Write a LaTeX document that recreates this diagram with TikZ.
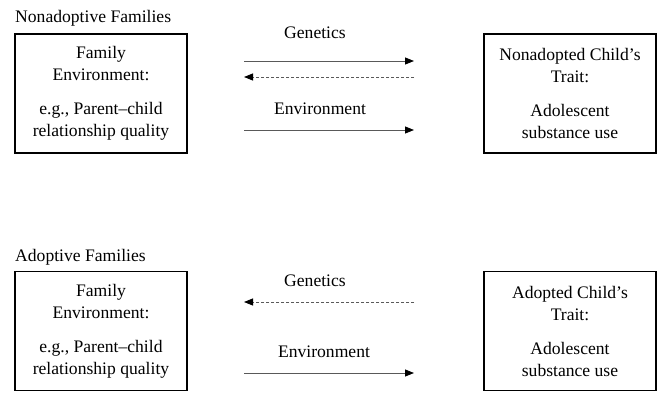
\documentclass[tikz,border=0pt]{standalone}
\usepackage{fontspec}
\setmainfont{Liberation Serif}
\usepackage{tikz}
\usetikzlibrary{arrows.meta}

\begin{document}
\begin{tikzpicture}[x=1pt,y=1pt]
\tikzstyle{freccia} = [-{Triangle[length=9pt,width=7pt,color=black]}, line width=0.9pt, draw=black!65]
\tikzstyle{tratteggio} = [freccia, dash pattern=on 3pt off 2pt]
\tikzstyle{scatola} = [draw, line width=1.2pt, minimum width=172pt, minimum height=119pt, align=center, font=\fontsize{17.6}{22}\selectfont]
\tikzstyle{testo} = [font=\fontsize{17.6}{22}\selectfont, inner sep=0pt]
\useasboundingbox (0,0) rectangle (657,392);
% nonadoptive
\node[testo, anchor=west] (t1) at (15,374) {Nonadoptive Families};
\node[scatola] (fam1) at (101,298.5) {Family\\ Environment:\\[12pt] e.g., Parent--child\\ relationship quality};
\node[scatola] (trait1) at (570,298.5) {Nonadopted Child's\\ Trait:\\[12pt] Adolescent\\ substance use};
\node[testo] (gen1) at (315,359) {Genetics};
\node[testo] (env1) at (320,283) {Environment};
\coordinate (a1) at (244,331);
\coordinate (b1) at (414,331);
\coordinate (a2) at (244,315);
\coordinate (b2) at (414,315);
\coordinate (a3) at (244,262);
\coordinate (b3) at (414,262);
\draw[freccia] (a1) -- (b1);
\draw[tratteggio] (b2) -- (a2);
\draw[freccia] (a3) -- (b3);
% adoptive
\node[testo, anchor=west] (t2) at (15,135) {Adoptive Families};
\node[scatola] (fam2) at (101,61) {Family\\ Environment:\\[12pt] e.g., Parent--child\\ relationship quality};
\node[scatola] (trait2) at (570,61) {Adopted Child's\\ Trait:\\[12pt] Adolescent\\ substance use};
\node[testo] (gen2) at (315,111) {Genetics};
\node[testo] (env2) at (324,40) {Environment};
\coordinate (a4) at (244,90);
\coordinate (b4) at (414,90);
\coordinate (a5) at (244,19);
\coordinate (b5) at (414,19);
\draw[tratteggio] (b4) -- (a4);
\draw[freccia] (a5) -- (b5);
\end{tikzpicture}
\end{document}
